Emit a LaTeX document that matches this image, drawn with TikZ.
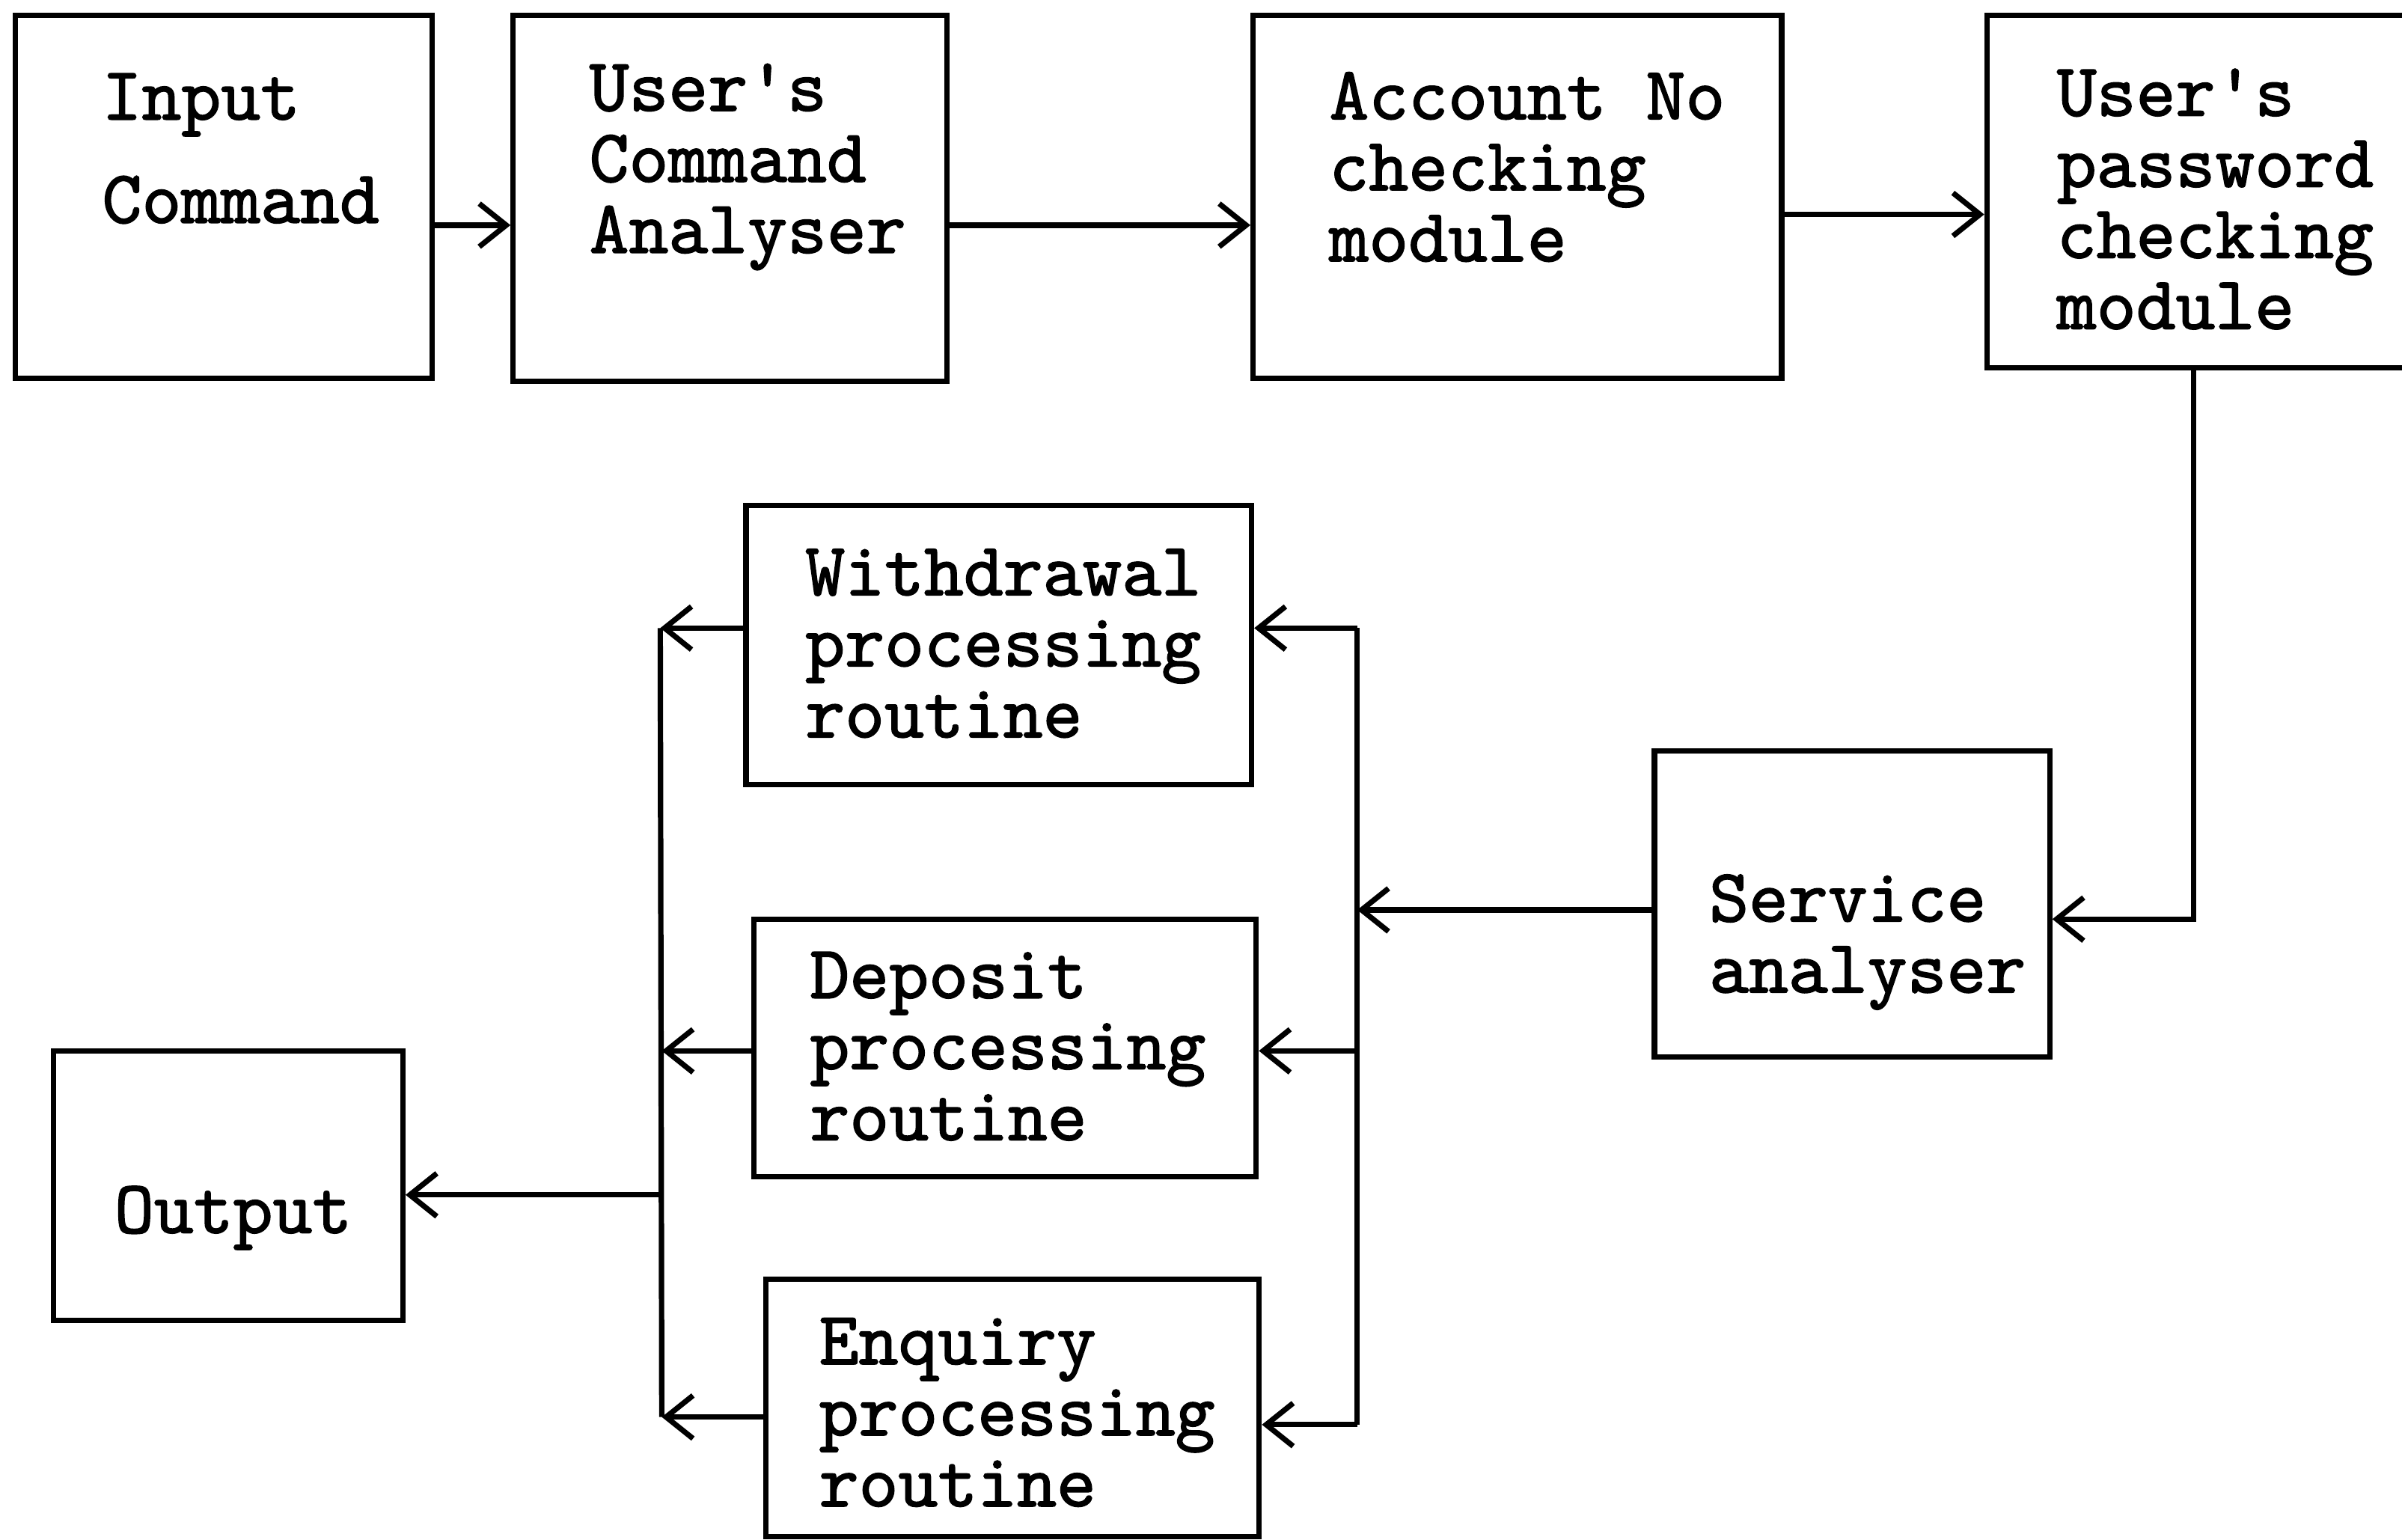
\documentclass[tikz,border=0pt]{standalone}
\usepackage{fontspec}
\newfontfamily\typew[FakeBold=1.6]{lmmono10-regular.otf}
\usetikzlibrary{arrows.meta,positioning}
\tikzset{
    -{Straight Barb[length=5pt,width=8pt]},
    every picture/.style={line width=1pt},
    box/.style ={rectangle, draw, inner sep=0pt},
    txt/.style = {inner sep=0pt, anchor=west, align=left, font=\typew\fontsize{14}{13.2}\selectfont}
}
\begin{document}
\begin{tikzpicture}
    \useasboundingbox (0,0) rectangle (15.68,10.05);
    \node (inp) at (1.46,8.765) [box, minimum width=2.72cm, minimum height=2.37cm] {};
    \node (ana) at (4.765,8.755) [box, minimum width=2.83cm, minimum height=2.39cm] {};
		\node (acc) at (9.905,8.765) [box, minimum width=3.45cm, minimum height=2.37cm] {};
		\node (pwd) at (14.385,8.80) [box, minimum width=2.83cm, minimum height=2.30cm] {};
		\node (wdr) at (6.52,5.84) [box, minimum width=3.30cm, minimum height=1.82cm] {};
		\node (dep) at (6.56,3.21) [box, minimum width=3.28cm, minimum height=1.68cm] {};
		\node (enq) at (6.61,0.86) [box, minimum width=3.22cm, minimum height=1.68cm] {};
		\node (srv) at (12.09,4.15) [box, minimum width=2.58cm, minimum height=2.0cm] {};
		\node (out) at (1.49,2.31) [box, minimum width=2.28cm, minimum height=1.76cm] {};

    \node (inpT) at (0.65,9.08) [txt] {Input\\[6pt]Command};
    \node (anaT) at (3.83,8.96) [txt] {User's\\Command\\Analyser};
		\node (accT) at (8.66,8.96) [txt] {Account No\\checking\\module};
		\node (pwdT) at (13.41,8.75) [txt] {User's\\password\\checking\\module};
		\node (wdrT) at (5.24,5.85) [txt] {Withdrawal\\processing\\routine};
		\node (depT) at (5.27,3.22) [txt] {Deposit\\processing\\routine};
		\node (enqT) at (5.33,0.83) [txt] {Enquiry\\processing\\routine};
		\node (srvT) at (11.14,3.90) [txt] {Service\\analyser};
		\node (outT) at (0.73,2.10) [txt] {Output};

    \coordinate (r1) at (0,8.58);
    \coordinate (r2) at (0,8.65);
    \coordinate (pc) at (14.32,4.05);
    \coordinate (rt) at (8.86,5.95);
    \coordinate (rm) at (8.86,4.11);
    \coordinate (rd) at (8.86,3.19);
    \coordinate (rb) at (8.86,0.75);
    \coordinate (lt) at (4.31,5.95);
    \coordinate (ld) at (4.32,3.19);
    \coordinate (lo) at (4.32,2.25);
    \coordinate (lb) at (4.32,0.80);

    \path (inp.east |- r1) edge (ana.west |- r1);
		\path (ana.east |- r1) edge (acc.west |- r1);
		\path (acc.east |- r2) edge (pwd.west |- r2);
		\draw (pwd.south -| pc) -- (pc) -- (srv.east |- pc);
		\path (srv.west |- rm) edge (rm);
		\draw[-] (rt) -- (rb);
		\path (rt) edge (wdr.east |- rt);
		\path (rd) edge (dep.east |- rd);
		\path (rb) edge (enq.east |- rb);
		\draw[-] (lt) -- (lb);
		\path (wdr.west |- lt) edge (lt);
		\path (dep.west |- ld) edge (ld);
		\path (enq.west |- lb) edge (lb);
		\path (lo) edge (out.east |- lo);
\end{tikzpicture}
\end{document}
